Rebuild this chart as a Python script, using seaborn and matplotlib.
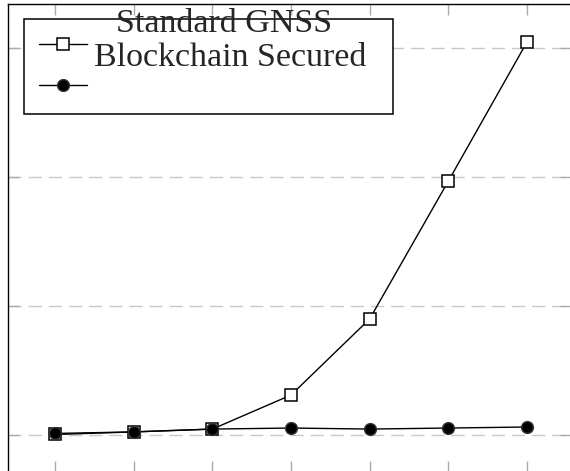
import matplotlib
matplotlib.use('Agg')
import matplotlib.pyplot as plt
import seaborn as sns
from matplotlib.lines import Line2D

# Datos
steps = [1, 2, 3, 4, 5, 6, 7]
standard_gnss = [2, 12, 23, 155, 450, 984, 1523]
blockchain_secured = [6, 12, 23, 27, 23, 27, 31]
y_grid = [0, 500, 1000, 1500]
labels = ['Standard GNSS', 'Blockchain Secured']

sns.set_style('white')
plt.rcParams['font.family'] = ['Liberation Serif', 'DejaVu Serif']

W, H = 570, 471
fig = plt.figure(figsize=(W / 100, H / 100), dpi=100)
ax = fig.add_axes([8 / W, -1 / H, 563 / W, 468 / H])

# Serie estándar (cuadrados huecos)
sns.lineplot(x=steps, y=standard_gnss, ax=ax, color='black', lw=1,
             marker='s', markersize=8.5, markerfacecolor='white',
             markeredgecolor='black', markeredgewidth=1.1, legend=False)
# Serie asegurada con blockchain (círculos rellenos)
sns.lineplot(x=steps, y=blockchain_secured, ax=ax, color='black', lw=1,
             marker='o', markersize=8.5, markerfacecolor='black',
             markeredgecolor='#333333', markeredgewidth=1, legend=False)

ax.set_xlim(0.4, 7.56)
ax.set_ylim(-143.4, 1670.5)
ax.set_xticks(steps)
ax.set_yticks(y_grid)
ax.tick_params(direction='in', length=8, width=1, color='#aaaaaa',
               top=True, right=True, bottom=True, left=True,
               labelbottom=False, labelleft=False)
ax.yaxis.grid(True, linestyle=(0, (9.5, 5)), color='#c8c8c8', lw=1)
ax.xaxis.grid(False)
for s in ax.spines.values():
    s.set_color('black')
    s.set_linewidth(1)

# Leyenda: cuadro con los símbolos
h1 = Line2D([], [], color='black', lw=1, marker='s', markersize=8.5,
            markerfacecolor='white', markeredgecolor='black', markeredgewidth=1.1)
h2 = Line2D([], [], color='black', lw=1, marker='o', markersize=8.5,
            markerfacecolor='black', markeredgecolor='#333333')
leg = ax.legend(handles=[h1, h2], labels=['', ''], loc='upper left',
                bbox_to_anchor=(24 / W, 1 - 19 / H, 369 / W, 0),
                bbox_transform=fig.transFigure, mode='expand',
                borderaxespad=0, fontsize=16, handlelength=2.16,
                handleheight=1.35, borderpad=0.66, labelspacing=0.72,
                frameon=True, fancybox=False, edgecolor='black', framealpha=1)
leg.get_frame().set_linewidth(1.1)

fig.text(224.5 / W, 1 - 32 / H, labels[0], ha='center', va='baseline', fontsize=24.5)
fig.text(230 / W, 1 - 66 / H, labels[1], ha='center', va='baseline', fontsize=24.5)

fig.savefig('out.png', dpi=100)
